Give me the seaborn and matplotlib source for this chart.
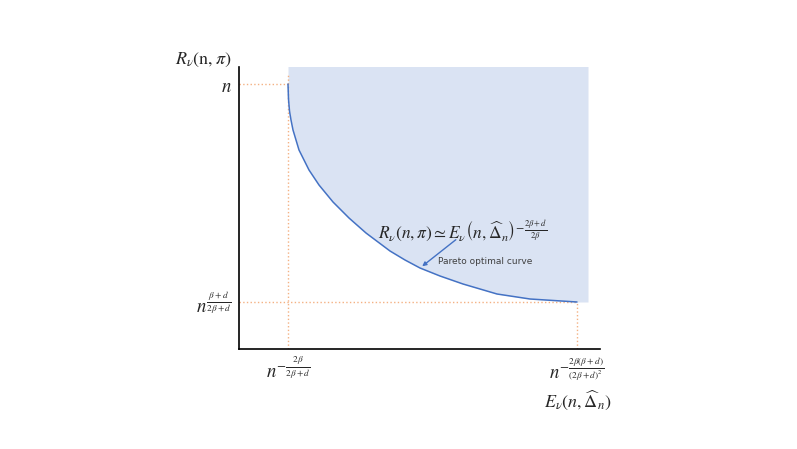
import numpy as np
import pandas as pd
import seaborn as sns
import matplotlib.pyplot as plt

# Pareto curve (arbitrary units)
curve_x = [49, 49.5, 50.5, 52, 54, 60, 70, 80, 94, 110, 127, 139, 151, 166, 181, 201, 224, 258, 291, 338]
curve_y = [265, 250, 238, 229, 219, 199, 179, 164, 147, 131, 116, 107, 98, 89, 81, 73, 65, 55, 50, 47]

# region to the right / above the curve
region_right = 349
region_top = 283

x_ticks = [49, 338]
x_tick_labels = [r'$n^{-\frac{2\beta}{2\beta+d}}$',
                 r'$n^{-\frac{2\beta(\beta+d)}{(2\beta+d)^2}}$']
y_ticks = [47, 265]
y_tick_labels = [r'$n^{\frac{\beta+d}{2\beta+d}}$', r'$n$']

sns.set_style('white')
plt.rcParams['mathtext.fontset'] = 'stix'
plt.rcParams['font.family'] = ['DejaVu Sans']

fig = plt.figure(figsize=(7.97, 4.49), dpi=100)
ax = fig.add_axes([239 / 797, 100 / 449, 361 / 797, 282 / 449])

df = pd.DataFrame({'x': curve_x, 'y': curve_y})

fill_x = curve_x + [region_right]
fill_y = curve_y + [curve_y[-1]]
ax.fill_between(fill_x, fill_y, region_top, color='#dae3f3', lw=0, zorder=1)

sns.lineplot(data=df, x='x', y='y', ax=ax, color='#4472c4', lw=1.1, zorder=3)

guide = dict(color='#f4b183', lw=1, ls=':', zorder=2)
ax.plot([0, x_ticks[0]], [y_ticks[1], y_ticks[1]], **guide)
ax.plot([x_ticks[0], x_ticks[0]], [0, 274], **guide)
ax.plot([0, x_ticks[1]], [y_ticks[0], y_ticks[0]], **guide)
ax.plot([x_ticks[1], x_ticks[1]], [0, y_ticks[0]], **guide)

ax.set_xlim(0, 361)
ax.set_ylim(0, 282)
ax.set_xticks(x_ticks)
ax.set_xticklabels(x_tick_labels, fontsize=13.5)
ax.set_yticks(y_ticks)
ax.set_yticklabels(y_tick_labels, fontsize=13.5)
ax.tick_params(length=0, pad=5)
ax.set_xlabel('')
ax.set_ylabel('')
for s in ['top', 'right']:
    ax.spines[s].set_visible(False)
for s in ['left', 'bottom']:
    ax.spines[s].set_color('black')
    ax.spines[s].set_linewidth(1.2)

ax.text(-8, 289, r'$R_\nu(\mathrm{n},\pi)$', fontsize=13, ha='right', va='center')
ax.text(339, -51, r'$E_\nu(n,\widehat{\Delta}_n)$', fontsize=13, ha='center', va='center')

ax.text(139, 118, r'$R_\nu(n,\pi)\simeq E_\nu\left(n,\widehat{\Delta}_n\right)^{-\frac{2\beta+d}{2\beta}}$',
        fontsize=12.5, ha='left', va='center')
ax.annotate('', xy=(181, 81), xytext=(219, 111),
            arrowprops=dict(arrowstyle='-|>', color='#4472c4', lw=1, mutation_scale=6))
ax.text(199, 87, 'Pareto optimal curve', fontsize=6.5, color='#404040', ha='left', va='center')

fig.savefig('out.png', dpi=100)
